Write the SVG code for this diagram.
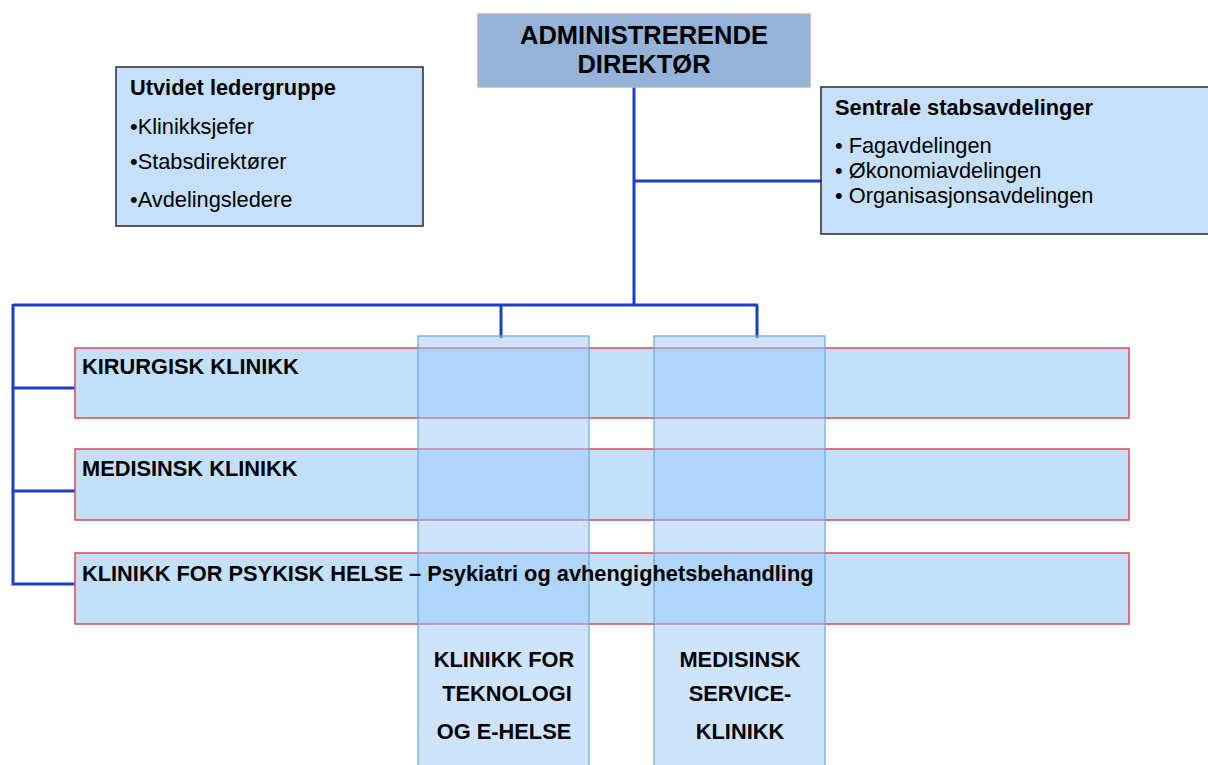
<svg xmlns="http://www.w3.org/2000/svg" width="1208" height="765" viewBox="0 0 1208 765">
<style>
text{font-family:"Liberation Sans",Arial,sans-serif;fill:#000;font-size:21.8px}
.b{font-weight:bold}
.row{fill:#c3e0fb;stroke:#dc4a5a;stroke-width:1.5}
.col{fill:rgb(156,201,249);fill-opacity:0.5;stroke:#6fa3e0;stroke-width:1.2}
.conn{stroke:#1c3fc4;stroke-width:3;fill:none}
.info{fill:#c6e0fb;stroke:#2a2a2a;stroke-width:1.5}
</style>
<rect width="1208" height="765" fill="#fff"/>
<g id="connectors">
<path class="conn" d="M634 87V305M634 181H821M13 305H758M13 304V584H75M13 388H75M13 491H75M501 305V338M757 305V338"/>
</g>
<g id="admin">
<rect x="478" y="14" width="332" height="73" fill="#95b3d7" stroke="#b5b5b5" stroke-width="1.5"/>
<text class="b" x="644" y="44" style="font-size:25.5px" text-anchor="middle">ADMINISTRERENDE</text>
<text class="b" x="644" y="73" style="font-size:25.5px" text-anchor="middle">DIREKTØR</text>
</g>
<g id="ledergruppe">
<rect class="info" x="116" y="67" width="307" height="159"/>
<text class="b" x="130" y="95">Utvidet ledergruppe</text>
<text x="130" y="134">•Klinikksjefer</text>
<text x="130" y="169">•Stabsdirektører</text>
<text x="130" y="207">•Avdelingsledere</text>
</g>
<g id="stab">
<rect class="info" x="821" y="87" width="395" height="147"/>
<text class="b" x="835" y="115">Sentrale stabsavdelinger</text>
<text x="835" y="153">• Fagavdelingen</text>
<text x="835" y="178">• Økonomiavdelingen</text>
<text x="835" y="203">• Organisasjonsavdelingen</text>
</g>
<g id="kirurgisk"><rect class="row" x="75" y="348" width="1054" height="70"/></g>
<g id="medisinsk"><rect class="row" x="75" y="449" width="1054" height="71"/></g>
<g id="psykisk"><rect class="row" x="75" y="553" width="1054" height="71"/></g>
<g id="teknologi"><rect class="col" x="418" y="336" width="171" height="440"/></g>
<g id="service"><rect class="col" x="654" y="336" width="171" height="440"/></g>
<g id="labels">
<text class="b" x="82" y="374">KIRURGISK KLINIKK</text>
<text class="b" x="82" y="476">MEDISINSK KLINIKK</text>
<text class="b" x="82" y="581">KLINIKK FOR PSYKISK HELSE – Psykiatri og avhengighetsbehandling</text>
<text class="b" x="504" y="667" text-anchor="middle">KLINIKK FOR</text>
<text class="b" x="507" y="701" text-anchor="middle">TEKNOLOGI</text>
<text class="b" x="504" y="739" text-anchor="middle">OG E-HELSE</text>
<text class="b" x="740" y="667" text-anchor="middle">MEDISINSK</text>
<text class="b" x="740" y="701" text-anchor="middle">SERVICE-</text>
<text class="b" x="740" y="739" text-anchor="middle">KLINIKK</text>
</g>
</svg>
